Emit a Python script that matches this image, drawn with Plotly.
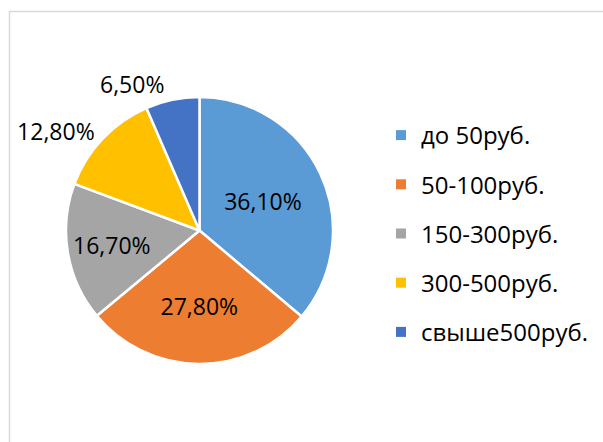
import plotly.graph_objects as go

categories = ["до 50руб.", "50-100руб.", "150-300руб.", "300-500руб.", "свыше500руб."]
values = [36.1, 27.8, 16.7, 12.8, 6.5]
colors = ["#5B9BD5", "#ED7D31", "#A5A5A5", "#FFC000", "#4472C4"]
label_positions = ["inside", "inside", "inside", "outside", "outside"]

W, H = 603, 442
FONT = "Open Sans"
FS = 23

texts = [f"{v:.2f}%".replace(".", ",") for v in values]

fig = go.Figure()
fig.add_trace(go.Pie(
    labels=categories,
    values=values,
    text=texts,
    textinfo="text",
    textposition=label_positions,
    insidetextorientation="horizontal",
    sort=False,
    direction="clockwise",
    rotation=0,
    marker=dict(colors=colors, line=dict(color="white", width=2.5)),
    textfont=dict(family=FONT, size=FS, color="#000000"),
    domain=dict(x=[66 / W, 333 / W], y=[(H - 364) / H, (H - 97) / H]),
    showlegend=False,
    hoverinfo="label+percent",
))

for i, (cat, col) in enumerate(zip(categories, colors)):
    fig.add_trace(go.Scatter(
        x=[None], y=[None], mode="markers",
        marker=dict(symbol="square", size=10, color=col),
        name=cat, legendgroup=f"g{i}", showlegend=True,
    ))

fig.update_layout(
    width=W, height=H,
    margin=dict(l=0, r=0, t=0, b=0),
    paper_bgcolor="white", plot_bgcolor="white",
    xaxis=dict(visible=False), yaxis=dict(visible=False),
    legend=dict(
        x=381 / W, xanchor="left",
        y=1 - 113 / H, yanchor="top",
        font=dict(family=FONT, size=24, color="#000000"),
        tracegroupgap=15,
        bgcolor="rgba(0,0,0,0)",
    ),
    shapes=[dict(type="rect", xref="paper", yref="paper",
                 x0=9.5 / W, x1=1.2, y0=-0.2, y1=1 - 11.5 / H,
                 line=dict(color="#D9D9D9", width=1.5), fillcolor="rgba(0,0,0,0)")],
)

fig.write_html("out.html", config={"displayModeBar": False},
               post_script="document.body.style.margin='0';")
